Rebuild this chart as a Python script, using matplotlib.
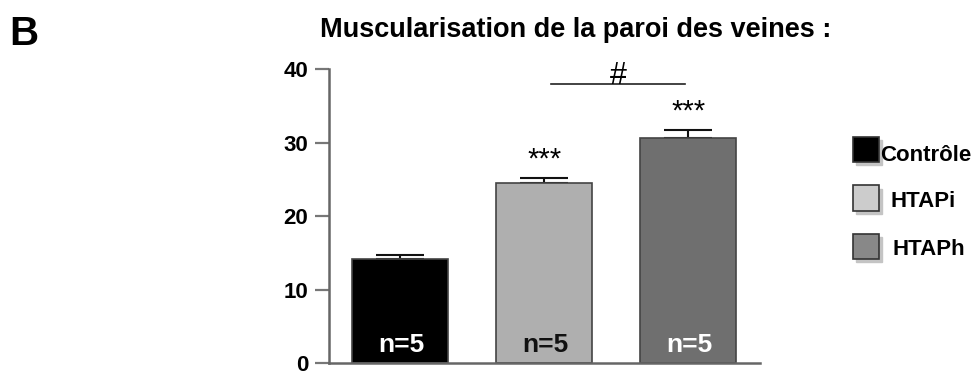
import matplotlib.pyplot as plt
from matplotlib.patches import Rectangle

groups = ["Contrôle", "HTAPi", "HTAPh"]
means = [14.2, 24.5, 30.6]
errors = [0.45, 0.7, 1.2]
n_labels = ["n=5", "n=5", "n=5"]
stars = ["", "***", "***"]
yticks = [0, 10, 20, 30, 40]

bar_colors = ["#000000", "#afafaf", "#6f6f6f"]
legend_colors = ["#000000", "#cccccc", "#888888"]
n_colors = ["white", "#111111", "white"]

plt.rcParams["font.family"] = ["Liberation Sans", "DejaVu Sans"]

fig = plt.figure(figsize=(9.77, 3.74), dpi=100)
ax = fig.add_axes([0.337, 0.0294, 0.4408, 0.7853])

x = range(len(groups))
ax.errorbar(x, means, yerr=[[0] * 3, errors], fmt="none", ecolor="#111111",
            elinewidth=1.5, capsize=17, capthick=1.5, zorder=1)
ax.bar(x, means, width=0.667, color=bar_colors, edgecolor="#444444",
       linewidth=1.2, zorder=2)

for i, m in enumerate(means):
    ax.text(i + 0.01, 1.5, n_labels[i], color=n_colors[i], ha="center",
            va="baseline", fontsize=19, fontweight="bold", zorder=3)
    if stars[i]:
        ax.text(i, m + errors[i] + 1.4, stars[i], ha="center",
                va="baseline", fontsize=21)

# significance bar HTAPi vs HTAPh
ax.plot([1.045, 1.976], [38.0, 38.0], color="#222222", lw=1.2, clip_on=False)
ax.text(1.517, 38.05, "#", ha="center", va="baseline", fontsize=22,
        clip_on=False)

ax.set_xlim(-0.494, 2.497)
ax.set_ylim(0, 40)
ax.set_yticks(yticks)
ax.set_xticks([])
ax.spines["top"].set_visible(False)
ax.spines["right"].set_visible(False)
for s in ["left", "bottom"]:
    ax.spines[s].set_color("#666666")
    ax.spines[s].set_linewidth(1.8)
ax.tick_params(axis="y", length=10, width=1.6, color="#777777", pad=5,
               labelsize=16)
for lab in ax.get_yticklabels():
    lab.set_fontweight("bold")

fig.text(0.589, 1 - 37 / 374, "Muscularisation de la paroi des veines :",
         ha="center", va="baseline", fontsize=19.5, fontweight="bold")
fig.text(9 / 977, 1 - 45 / 374, "B", ha="left", va="baseline", fontsize=29,
         fontweight="bold")

# legend
sq_w, sq_h = 26 / 977, 25 / 374
sq_top = [137, 185.5, 233.5]
txt_x = [880, 890, 893]
txt_base = [161, 207, 255]
for i, g in enumerate(groups):
    y0 = 1 - (sq_top[i] + 25) / 374
    fig.add_artist(Rectangle((856 / 977, y0 - 3 / 374), sq_w, sq_h,
                             transform=fig.transFigure, color="#c4c4c4",
                             zorder=1))
    fig.add_artist(Rectangle((853 / 977, y0), sq_w, sq_h,
                             transform=fig.transFigure,
                             facecolor=legend_colors[i],
                             edgecolor="#333333", lw=1.2, zorder=2))
    fig.text(txt_x[i] / 977, 1 - txt_base[i] / 374, g, ha="left",
             va="baseline", fontsize=16, fontweight="bold")

fig.savefig("out.png", dpi=100)
